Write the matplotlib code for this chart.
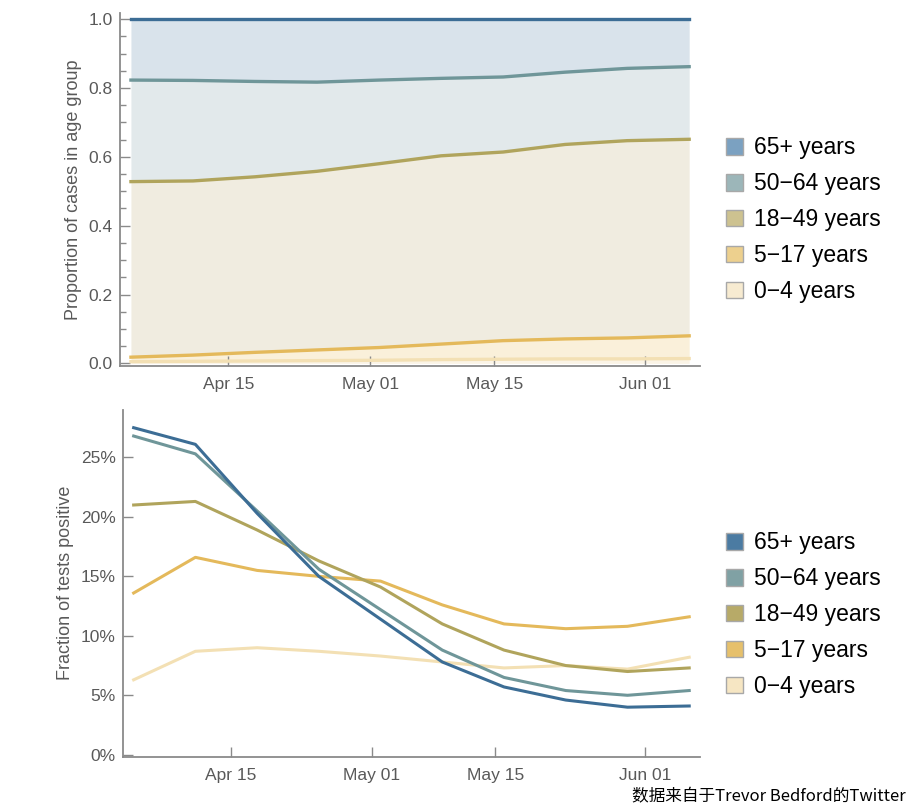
import datetime as dt

import matplotlib
matplotlib.use("Agg")
import matplotlib.dates as mdates
import matplotlib.pyplot as plt
import numpy as np
from matplotlib.patches import Patch
from matplotlib.ticker import FuncFormatter, MultipleLocator

plt.rcParams["font.family"] = ["Liberation Sans", "DejaVu Sans"]

# weekly data points
dates = [dt.date(2020, 4, 4) + dt.timedelta(days=7 * i) for i in range(10)]

groups = ["0\u22124 years", "5\u221217 years", "18\u221249 years", "50\u221264 years", "65+ years"]

# proportion of cases in each age group (top panel)
share_0_4 = [0.005, 0.006, 0.007, 0.008, 0.009, 0.011, 0.012, 0.013, 0.013, 0.014]
share_5_17 = [0.013, 0.018, 0.025, 0.031, 0.037, 0.045, 0.054, 0.058, 0.061, 0.066]
share_18_49 = [0.510, 0.506, 0.510, 0.519, 0.534, 0.547, 0.548, 0.565, 0.573, 0.571]
share_50_64 = [0.295, 0.292, 0.277, 0.259, 0.243, 0.225, 0.218, 0.210, 0.210, 0.211]
share_65 = [0.177, 0.178, 0.181, 0.183, 0.177, 0.172, 0.168, 0.154, 0.143, 0.138]

# fraction of tests positive, in % (bottom panel)
pos_0_4 = [6.3, 8.7, 9.0, 8.7, 8.3, 7.8, 7.3, 7.5, 7.2, 8.2]
pos_5_17 = [13.6, 16.6, 15.5, 15.0, 14.6, 12.6, 11.0, 10.6, 10.8, 11.6]
pos_18_49 = [21.0, 21.3, 18.9, 16.3, 14.1, 11.0, 8.8, 7.5, 7.0, 7.3]
pos_50_64 = [26.8, 25.3, 20.5, 15.6, 12.2, 8.8, 6.5, 5.4, 5.0, 5.4]
pos_65 = [27.5, 26.1, 20.3, 15.0, 11.4, 7.8, 5.7, 4.6, 4.0, 4.1]

line_colors = ["#f3e0b4", "#e4b95b", "#b0a45c", "#6f9699", "#3c6d95"]
fill_colors = ["#fbf4e6", "#faf0da", "#f0ece0", "#e2e9eb", "#d9e3eb"]
top_patch = ["#f7ebd1", "#edd08e", "#cdc290", "#9cb6b9", "#7ba1c1"]
bot_patch = ["#f6e6c3", "#e6c06b", "#b7aa68", "#80a1a4", "#4b7ba2"]

AXIS_GREY = "#8a8a8a"
TEXT_GREY = "#595959"

fig = plt.figure(figsize=(9.22, 8.10), dpi=100)
ax1 = fig.add_axes([0.130, 0.548, 0.629, 0.436])
ax2 = fig.add_axes([0.133, 0.066, 0.626, 0.428])

x = mdates.date2num(dates)
xlim = (x[0] - 1.25, x[-1] + 1.2)


def style_axis(ax):
    for side in ("top", "right"):
        ax.spines[side].set_visible(False)
    for side in ("left", "bottom"):
        ax.spines[side].set_color(AXIS_GREY)
        ax.spines[side].set_linewidth(1.3)
    ax.tick_params(which="both", direction="in", color=AXIS_GREY, labelcolor=TEXT_GREY,
                   labelsize=12.5, width=1.0)
    ax.tick_params(which="major", length=7)
    ax.tick_params(which="minor", length=4.5)
    ax.tick_params(axis="x", pad=8)
    ax.tick_params(axis="y", pad=5)
    ax.xaxis.set_major_locator(mdates.DayLocator(bymonthday=[1, 15]))
    ax.xaxis.set_major_formatter(mdates.DateFormatter("%b %d"))
    ax.set_xlim(*xlim)


# top: stacked proportions
shares = np.array([share_0_4, share_5_17, share_18_49, share_50_64, share_65])
cum = np.cumsum(shares, axis=0)
lower = np.zeros(len(x))
for i in range(len(groups)):
    ax1.fill_between(x, lower, cum[i], color=fill_colors[i], linewidth=0, zorder=1)
    lower = cum[i]
for i in range(len(groups)):
    ax1.plot(x, cum[i], color=line_colors[i], linewidth=2.4, zorder=3)

style_axis(ax1)
ax1.set_ylim(-0.008, 1.018)
ax1.yaxis.set_major_locator(MultipleLocator(0.2))
ax1.yaxis.set_minor_locator(MultipleLocator(0.05))
ax1.yaxis.set_major_formatter(FuncFormatter(lambda v, p: f"{v:.1f}"))
ax1.set_ylabel("Proportion of cases in age group", color=TEXT_GREY, fontsize=13, labelpad=5)

# bottom: test positivity
positives = [pos_0_4, pos_5_17, pos_18_49, pos_50_64, pos_65]
for i in range(len(groups)):
    ax2.plot(x, positives[i], color=line_colors[i], linewidth=2.2, zorder=3 + i)

style_axis(ax2)
ax2.set_ylim(-0.15, 29.0)
ax2.yaxis.set_major_locator(MultipleLocator(5))
ax2.yaxis.set_major_formatter(FuncFormatter(lambda v, p: f"{v:.0f}%"))
ax2.set_ylabel("Fraction of tests positive", color=TEXT_GREY, fontsize=13, labelpad=5)


def add_legend(colors, y_top):
    handles = [Patch(facecolor=colors[i], edgecolor="#a8a8a8", linewidth=1.0, label=groups[i])
               for i in reversed(range(len(groups)))]
    fig.legend(handles=handles, loc="upper left", bbox_to_anchor=(0.777, y_top),
               frameon=False, fontsize=16.5, handlelength=0.75, handleheight=0.75,
               handletextpad=0.5, labelspacing=0.565, borderaxespad=0)


add_legend(top_patch, 1 - 127 / 810)
add_legend(bot_patch, 1 - 522 / 810)

fig.text(0.982, 0.006, "数据来自于Trevor Bedford的Twitter", ha="right", va="bottom",
         fontsize=12, family=["Noto Sans CJK SC", "DejaVu Sans"], color="black")

fig.savefig("out.png", dpi=100)
